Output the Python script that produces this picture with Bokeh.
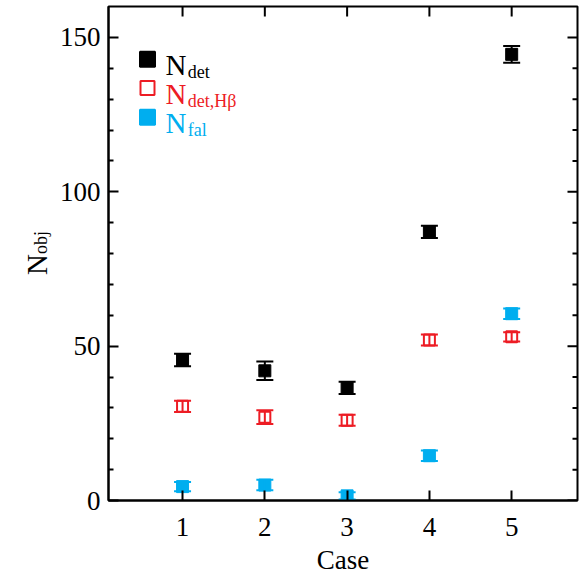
import math
from bokeh.plotting import figure
from bokeh.models import (ColumnDataSource, Whisker, TeeHead, FixedTicker,
                          Label, Range1d)
from bokeh.embed import file_html
from bokeh.resources import INLINE

# ---------------- data ----------------
cases = [1, 2, 3, 4, 5]
n_det = [45.5, 42.0, 36.5, 87.0, 144.5]
n_det_err = [2.0, 3.0, 2.0, 2.0, 2.7]
n_det_hb = [30.5, 27.0, 26.0, 52.0, 53.0]
n_det_hb_err = [1.8, 2.2, 1.8, 1.8, 1.5]
n_fal = [4.5, 5.0, 1.5, 14.5, 60.5]
n_fal_err = [1.5, 1.7, 1.2, 1.7, 1.7]
x_ticks = [1, 2, 3, 4, 5]
y_major = [0, 50, 100, 150]
y_minor = [10, 20, 30, 40, 60, 70, 80, 90, 110, 120, 130, 140]
X_MIN, X_MAX = 0.1, 5.8
Y_MIN, Y_MAX = 0, 160

FONT = "Liberation Serif"
BLACK = "#000000"
RED = "#ED1C24"
BLUE = "#00AEEF"

p = figure(frame_width=469, frame_height=494,
           x_range=Range1d(X_MIN, X_MAX), y_range=Range1d(Y_MIN, Y_MAX),
           output_backend="svg", toolbar_location=None,
           min_border_left=108, min_border_right=3, min_border_top=6, min_border_bottom=66,
           background_fill_color="white", border_fill_color="white")
p.outline_line_color = "black"
p.outline_line_width = 2
p.xgrid.visible = False
p.ygrid.visible = False

for ax in (p.xaxis[0], p.yaxis[0]):
    ax.axis_line_width = 2
    ax.axis_line_color = "black"
    ax.major_tick_line_width = 2
    ax.minor_tick_line_width = 2
    ax.major_tick_in = 10
    ax.major_tick_out = 0
    ax.minor_tick_in = 5
    ax.minor_tick_out = 0
    ax.major_label_text_font = FONT
    ax.major_label_text_font_size = "27px"
    ax.major_label_text_color = "black"

p.xaxis.ticker = FixedTicker(ticks=x_ticks, minor_ticks=[])
p.yaxis.ticker = FixedTicker(ticks=y_major, minor_ticks=y_minor)
p.xaxis.major_label_standoff = 17
p.yaxis.major_label_standoff = 8
p.xaxis.axis_label = "Case"
p.xaxis.axis_label_text_font = FONT
p.xaxis.axis_label_text_font_size = "27px"
p.xaxis.axis_label_text_font_style = "normal"
p.xaxis.axis_label_text_color = "black"
p.xaxis.axis_label_standoff = 6

# mirrored ticks on top and right edges (clipped to the frame, so only the inner half shows)
p.scatter(x=x_ticks, y=[Y_MAX] * len(x_ticks), marker="dash", angle=math.pi / 2,
          size=20, line_color="black", line_width=2)
p.scatter(x=[X_MAX] * len(y_major), y=y_major, marker="dash", size=20,
          line_color="black", line_width=2)
p.scatter(x=[X_MAX] * len(y_minor), y=y_minor, marker="dash", size=10,
          line_color="black", line_width=2)

# ---------------- series ----------------
def series(vals, errs, color, fill):
    src = ColumnDataSource(dict(x=cases, y=vals,
                                lo=[v - e for v, e in zip(vals, errs)],
                                hi=[v + e for v, e in zip(vals, errs)]))
    w = Whisker(base="x", lower="lo", upper="hi", source=src,
                line_color=color, line_width=2,
                upper_head=TeeHead(size=17, line_color=color, line_width=2),
                lower_head=TeeHead(size=17, line_color=color, line_width=2))
    w.level = "glyph"
    p.add_layout(w)
    if fill:
        p.scatter("x", "y", source=src, marker="square", size=12,
                  fill_color=color, line_color=color, line_width=1)
    else:
        p.scatter("x", "y", source=src, marker="square", size=11,
                  fill_color=None, line_color=color, line_width=2)

series(n_det, n_det_err, BLACK, True)
series(n_det_hb, n_det_hb_err, RED, False)
series(n_fal, n_fal_err, BLUE, True)

# ---------------- legend (manual, to allow subscripts) ----------------
leg_x = 0.574
leg_rows = [(142.9, BLACK, True, "det"), (133.6, RED, False, "det,Hβ"), (124.1, BLUE, True, "fal")]
p.scatter(x=[leg_x] * 3, y=[r[0] for r in leg_rows], marker="square", size=[15, 14, 15],
          fill_color=[r[1] if r[2] else None for r in leg_rows],
          line_color=[r[1] for r in leg_rows], line_width=2)
for yc, col, _, sub in leg_rows:
    p.add_layout(Label(x=0.793, y=yc - 1.95, text="N", text_font=FONT,
                       text_font_size="29px", text_color=col, text_baseline="alphabetic"))
    p.add_layout(Label(x=1.064, y=yc - 4.2, text=sub, text_font=FONT,
                       text_font_size="18px", text_color=col, text_baseline="alphabetic"))

# ---------------- y axis title with subscript (side panel, so it is not clipped) ----------------
p.add_layout(Label(x=-0.775, y=76.4, text="N", text_font=FONT, text_font_size="29px",
                   angle=math.pi / 2, text_align="center", text_baseline="alphabetic",
                   text_color="black"), "left")
p.add_layout(Label(x=-0.726, y=83.6, text="obj", text_font=FONT, text_font_size="18px",
                   angle=math.pi / 2, text_align="center", text_baseline="alphabetic",
                   text_color="black"), "left")

open("out.html", "w").write(file_html(p, INLINE))
